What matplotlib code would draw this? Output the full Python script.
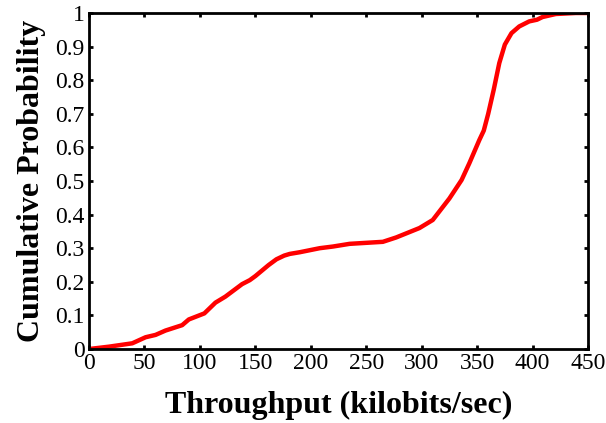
import matplotlib
matplotlib.use("Agg")
import matplotlib.pyplot as plt

# throughput (kbit/s) vs cumulative probability
throughput = [0, 18, 39, 51, 60, 69, 84, 90, 104, 114, 123, 138, 145, 150, 162,
              169, 176, 181, 190, 208, 220, 235, 265, 277, 298, 310, 325, 336, 343,
              352, 356, 360, 365, 370, 375, 381, 388, 397, 404, 409, 421, 439, 450]
cum_prob = [0, 0.007, 0.017, 0.035, 0.042, 0.055, 0.071, 0.088, 0.106, 0.138,
            0.156, 0.193, 0.205, 0.217, 0.25, 0.267, 0.278, 0.283, 0.288, 0.30,
            0.305, 0.313, 0.319, 0.332, 0.36, 0.384, 0.448, 0.503, 0.553, 0.622,
            0.65, 0.70, 0.772, 0.851, 0.906, 0.94, 0.96, 0.975, 0.98, 0.988,
            0.997, 1.0, 1.0]

x_ticks = [0, 50, 100, 150, 200, 250, 300, 350, 400, 450]
y_ticks = [0, 0.1, 0.2, 0.3, 0.4, 0.5, 0.6, 0.7, 0.8, 0.9, 1]
y_labels = ["0", "0.1", "0.2", "0.3", "0.4", "0.5", "0.6", "0.7", "0.8", "0.9", "1"]

plt.rcParams['font.family'] = ['Liberation Serif', 'DejaVu Serif']

fig = plt.figure(figsize=(6.06, 4.23), dpi=100)
ax = fig.add_axes([0.1469, 0.1749, 0.8234, 0.7944])

ax.plot(throughput, cum_prob, color='#ff0000', linewidth=3.2,
        solid_joinstyle='round', solid_capstyle='butt')

ax.set_xlim(0, 450)
ax.set_ylim(0, 1)
ax.set_xticks(x_ticks)
ax.set_yticks(y_ticks)
ax.set_yticklabels(y_labels)
ax.tick_params(direction='in', length=3, width=2, top=True, right=True,
               labelsize=17, pad=3)
for s in ax.spines.values():
    s.set_linewidth(2)

ax.set_xlabel("Throughput (kilobits/sec)", fontsize=23, fontweight='bold', labelpad=12)
ax.set_ylabel("Cumulative Probability", fontsize=23, fontweight='bold', labelpad=7)

fig.savefig("out.png", dpi=100)
